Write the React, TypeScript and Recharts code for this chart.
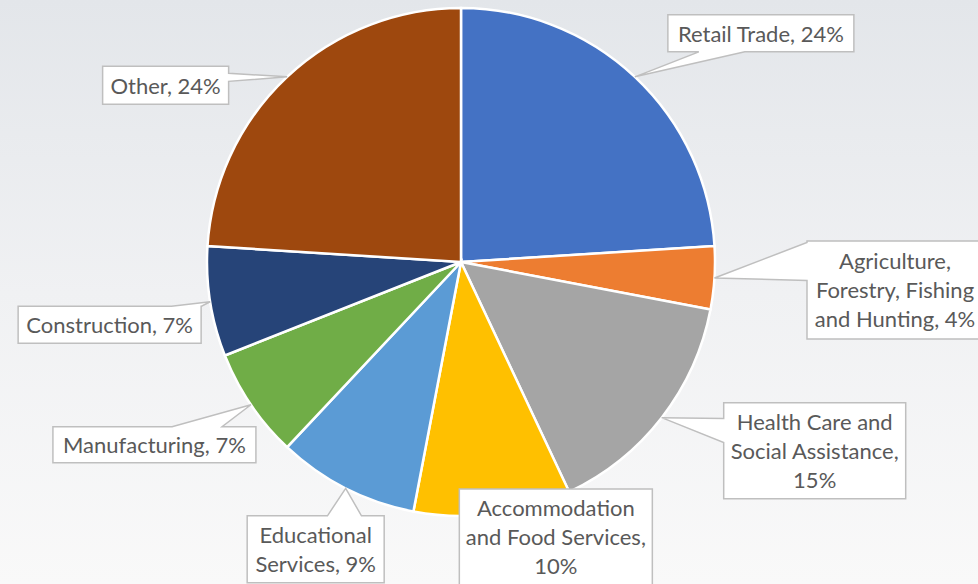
import React from 'react';
import { PieChart, Pie, Cell } from 'recharts';

// industry shares (%), clockwise from 12 o'clock
const categories = [
  'Retail Trade',
  'Agriculture, Forestry, Fishing and Hunting',
  'Health Care and Social Assistance',
  'Accommodation and Food Services',
  'Educational Services',
  'Manufacturing',
  'Construction',
  'Other',
];
const shares = [24, 4, 15, 10, 9, 7, 7, 24];
const colors = ['#4472C4', '#ED7D31', '#A5A5A5', '#FFC000', '#5B9BD5', '#70AD47', '#264478', '#9E480E'];

// how each label wraps in the callout box
const nameLines = [
  ['Retail Trade'],
  ['Agriculture,', 'Forestry, Fishing', 'and Hunting'],
  ['Health Care and', 'Social Assistance'],
  ['Accommodation', 'and Food Services'],
  ['Educational', 'Services'],
  ['Manufacturing'],
  ['Construction'],
  ['Other'],
];
const pctOwnLine = [false, false, true, true, false, false, false, false];

// callout box placement relative to the slice tip (dx, dy of box centre), box size,
// and where the pointer meets the box edge (fraction along edge, half width)
const callouts = [
  { dx: 126, dy: -43.5, w: 186, h: 37, at: 0.29, hw: 23 },
  { dx: 180.5, dy: 12, w: 176, h: 98, at: 0.21, hw: 19 },
  { dx: 153, dy: 33, w: 182, h: 96, at: 0.29, hw: 12 },
  { dx: 63, dy: 23, w: 193, h: 96, at: 0.5, hw: 0 },
  { dx: -30, dy: 61, w: 137, h: 67, at: 0.71, hw: 17 },
  { dx: -96.5, dy: 40, w: 203, h: 36, at: 0.71, hw: 25 },
  { dx: -100.5, dy: 23, w: 183, h: 37, at: 0.92, hw: 15 },
  { dx: -121.5, dy: 8.5, w: 126, h: 38, at: 0.29, hw: 4 },
];

const data = categories.map((name, i) => ({ name, value: shares[i] }));

const RADIAN = Math.PI / 180;
const LINE_H = 29;

function calloutPath(tx: number, ty: number, x0: number, y0: number, w: number, h: number, at: number, hw: number) {
  const x1 = x0 + w;
  const y1 = y0 + h;
  const inside = tx >= x0 && tx <= x1 && ty >= y0 && ty <= y1;
  const pts: [number, number][] = [];
  if (inside || hw === 0) {
    pts.push([x0, y0], [x1, y0], [x1, y1], [x0, y1]);
  } else if (ty < y0) {
    const c = x0 + at * w;
    pts.push([x0, y0], [c - hw, y0], [tx, ty], [c + hw, y0], [x1, y0], [x1, y1], [x0, y1]);
  } else if (ty > y1) {
    const c = x0 + at * w;
    pts.push([x0, y0], [x1, y0], [x1, y1], [c + hw, y1], [tx, ty], [c - hw, y1], [x0, y1]);
  } else if (tx > x1) {
    const c = y0 + at * h;
    pts.push([x0, y0], [x1, y0], [x1, c - hw], [tx, ty], [x1, c + hw], [x1, y1], [x0, y1]);
  } else {
    const c = y0 + at * h;
    pts.push([x0, y0], [x1, y0], [x1, y1], [x0, y1], [x0, c + hw], [tx, ty], [x0, c - hw]);
  }
  return 'M' + pts.map((p) => p[0] + ',' + p[1]).join('L') + 'Z';
}

function renderCallout(props: any) {
  const { cx, cy, midAngle, outerRadius, index } = props;
  const tx = cx + outerRadius * Math.cos(-midAngle * RADIAN);
  const ty = cy + outerRadius * Math.sin(-midAngle * RADIAN);
  const c = callouts[index];
  const bx = tx + c.dx;
  const by = ty + c.dy;
  const x0 = bx - c.w / 2;
  const y0 = by - c.h / 2;

  const pct = shares[index] + '%';
  const lines = [...nameLines[index]];
  if (pctOwnLine[index]) {
    lines[lines.length - 1] += ',';
    lines.push(pct);
  } else {
    lines[lines.length - 1] += ', ' + pct;
  }

  return (
    <g key={'callout-' + index}>
      <path
        d={calloutPath(tx, ty, x0, y0, c.w, c.h, c.at, c.hw)}
        fill="#ffffff"
        stroke="#bfbfbf"
        strokeWidth={1.5}
      />
      {lines.map((ln, j) => (
        <text
          key={j}
          x={bx}
          y={by + (j - (lines.length - 1) / 2) * LINE_H}
          textAnchor="middle"
          dominantBaseline="central"
          fill="#595959"
          fontSize={22}
          fontFamily="Lato, 'Open Sans', sans-serif"
        >
          {ln}
        </text>
      ))}
    </g>
  );
}

export default function App() {
  return (
    <div
      style={{
        position: 'absolute',
        left: 0,
        top: 0,
        width: 978,
        height: 584,
        overflow: 'hidden',
        background: 'linear-gradient(to bottom, #e3e6ea 0%, #f0f1f3 50%, #f9f9f9 100%)',
      }}
    >
      <PieChart width={978} height={584} margin={{ top: 0, right: 0, bottom: 0, left: 0 }}>
        <Pie
          data={data}
          dataKey="value"
          nameKey="name"
          cx={461}
          cy={262}
          outerRadius={254}
          startAngle={90}
          endAngle={-270}
          stroke="#ffffff"
          strokeWidth={2.5}
          label={renderCallout}
          labelLine={false}
          isAnimationActive={false}
        >
          {data.map((d, i) => (
            <Cell key={d.name} fill={colors[i]} />
          ))}
        </Pie>
      </PieChart>
    </div>
  );
}
